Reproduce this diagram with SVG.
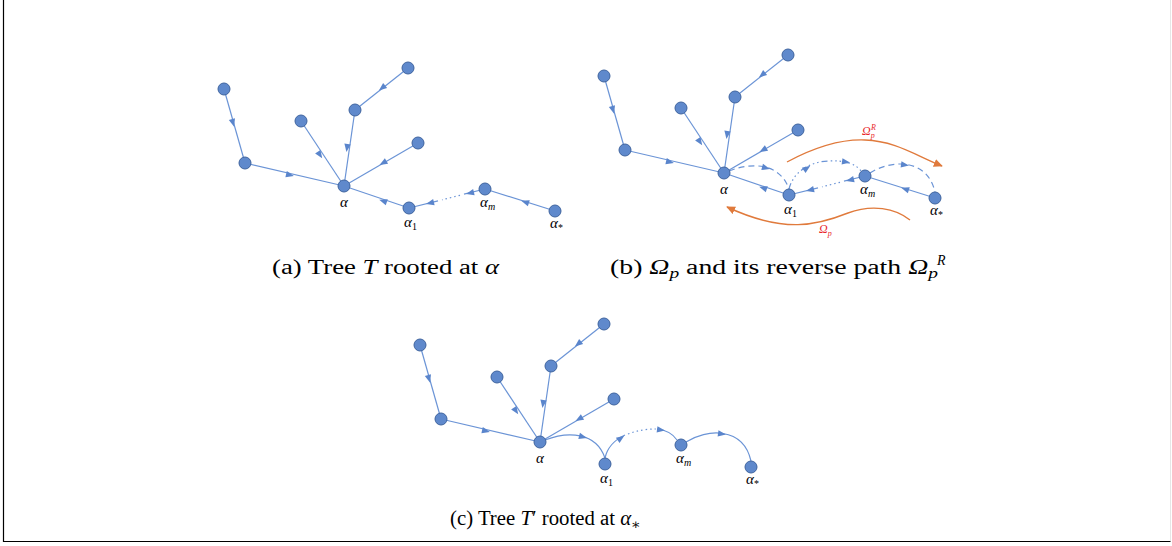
<svg xmlns="http://www.w3.org/2000/svg" xmlns:xlink="http://www.w3.org/1999/xlink" width="1172" height="546" viewBox="0 0 1172 546">
<style>
.e{fill:none;stroke:#6b94d6;stroke-width:1.2}
.dash{stroke-dasharray:6 4}
.dd{stroke-dasharray:6 3 1.5 3 1.5 3 1.5 3}
.dot{stroke-dasharray:1.5 3}
.n{fill:#5f89cc;stroke:#3f649f;stroke-width:1}
.lbl{font-family:"Liberation Serif","DejaVu Serif",serif;font-style:italic;font-size:15px;fill:#000}
.sub{font-size:10px}
.up{font-style:normal}
.cap{font-family:"Liberation Serif","DejaVu Serif",serif;font-size:20px;fill:#000}
.or{fill:none;stroke:#e07a3c;stroke-width:1.4}
.red{font-family:"Liberation Serif","DejaVu Serif",serif;font-style:italic;font-size:12px;fill:#e8262a}
</style>
<defs>
<path id="arr" d="M-4,-3.2 L4,0 L-4,3.2 z" fill="#5a85cc"/>
<marker id="oh" viewBox="0 0 10 10" refX="9" refY="5" markerWidth="9" markerHeight="9" markerUnits="userSpaceOnUse" orient="auto"><path d="M0,0.5 L10,5 L0,9.5 z" fill="#e07a3c"/></marker>
<g id="treeEdges">
<path class="e" d="M224,89 L245,163"/><use xlink:href="#arr" transform="translate(233,123) rotate(74)"/>
<path class="e" d="M245,163 L344,186"/><use xlink:href="#arr" transform="translate(290,175) rotate(13)"/>
<path class="e" d="M301,121 L344,186"/><use xlink:href="#arr" transform="translate(320,155) rotate(56.5)"/>
<path class="e" d="M355,110 L344,186"/><use xlink:href="#arr" transform="translate(347,148) rotate(98)"/>
<path class="e" d="M408,68 L355,110"/><use xlink:href="#arr" transform="translate(382,88) rotate(141.6)"/>
<path class="e" d="M418,143 L344,186"/><use xlink:href="#arr" transform="translate(383,163) rotate(150)"/>
</g>
<g id="pathEdges">
<path class="e" d="M409,208 L344,186"/><use xlink:href="#arr" transform="translate(383,201) rotate(198.7)"/>
<path class="e" d="M485,189 L464,194.2"/><use xlink:href="#arr" transform="translate(470,193) rotate(166)"/>
<path class="e dot" d="M460,195.3 L442,199.8"/>
<path class="e" d="M438,200.8 L409,208"/><use xlink:href="#arr" transform="translate(430,203) rotate(166)"/>
<path class="e" d="M555,211 L485,189"/><use xlink:href="#arr" transform="translate(525,202) rotate(197.4)"/>
</g>
<g id="nodeSet">
<circle class="n" cx="224" cy="89" r="6"/>
<circle class="n" cx="245" cy="163" r="6"/>
<circle class="n" cx="301" cy="121" r="6"/>
<circle class="n" cx="355" cy="110" r="6"/>
<circle class="n" cx="408" cy="68" r="6"/>
<circle class="n" cx="418" cy="143" r="6"/>
</g>
</defs>

<path d="M3.5,0 L3.5,541.5 L1170.5,541.5" fill="none" stroke="#000" stroke-width="1.2"/>
<path d="M1170.5,0 L1170.5,541" fill="none" stroke="#e6e6e6" stroke-width="1"/>

<!-- Panel (a) -->
<g id="panel-a">
<g id="a-connectors">
<use xlink:href="#treeEdges"/>
<use xlink:href="#pathEdges"/>
</g>
<g id="a-leaves"><use xlink:href="#nodeSet"/></g>
<g id="a-alpha"><circle class="n" cx="344" cy="186" r="6"/><text class="lbl" x="344" y="207" text-anchor="middle">α</text></g>
<g id="a-alpha1"><circle class="n" cx="409" cy="208" r="6"/><text class="lbl" x="404" y="227">α<tspan class="sub up" dy="3">1</tspan></text></g>
<g id="a-alpham"><circle class="n" cx="485" cy="189" r="6"/><text class="lbl" x="480" y="207">α<tspan class="sub" dy="3">m</tspan></text></g>
<g id="a-alphastar"><circle class="n" cx="555" cy="211" r="6"/><text class="lbl" x="550" y="228">α<tspan class="sub up" dy="3">*</tspan></text></g>
<text class="cap" x="272" y="274" textLength="227" lengthAdjust="spacingAndGlyphs">(a) Tree <tspan font-style="italic">T</tspan> rooted at <tspan font-style="italic">α</tspan></text>
</g>

<!-- Panel (b) -->
<g id="panel-b" transform="translate(380,-13)">
<g id="b-connectors">
<use xlink:href="#treeEdges"/>
<use xlink:href="#pathEdges"/>
<path class="e dash" d="M349,184 C372,175 400,176 409,202"/><use xlink:href="#arr" transform="translate(386,181) rotate(15)"/>
<path class="e dd" d="M409,202 C413,186 428,175 448,174 C465,173 476,177 481,184"/><use xlink:href="#arr" transform="translate(427,181) rotate(-35)"/><use xlink:href="#arr" transform="translate(466,175) rotate(8)"/>
<path class="e dash" d="M490,186 C510,173 547,170 555,205"/><use xlink:href="#arr" transform="translate(525,178) rotate(8)"/>
</g>
<g id="b-leaves"><use xlink:href="#nodeSet"/></g>
<g id="b-alpha"><circle class="n" cx="344" cy="186" r="6"/><text class="lbl" x="344" y="207" text-anchor="middle">α</text></g>
<g id="b-alpha1"><circle class="n" cx="409" cy="208" r="6"/><text class="lbl" x="404" y="227">α<tspan class="sub up" dy="3">1</tspan></text></g>
<g id="b-alpham"><circle class="n" cx="485" cy="189" r="6"/><text class="lbl" x="480" y="207">α<tspan class="sub" dy="3">m</tspan></text></g>
<g id="b-alphastar"><circle class="n" cx="555" cy="211" r="6"/><text class="lbl" x="550" y="228">α<tspan class="sub up" dy="3">*</tspan></text></g>
</g>
<g id="b-orange">
<path class="or" d="M787,162 C815,147 840,139 865,140 C895,141 915,155 942,166" marker-end="url(#oh)"/>
<text class="red" x="862" y="135">Ω<tspan font-size="8" dy="2.5">p</tspan></text>
<text class="red" x="871" y="130" style="font-size:8px">R</text>
<path class="or" d="M910,220 C895,208 872,204 848,213 C818,225 785,234 727,207" marker-end="url(#oh)"/>
<text class="red" x="819" y="233">Ω<tspan font-size="8" dy="2.5">p</tspan></text>
</g>
<text class="cap" x="610" y="274" textLength="328" lengthAdjust="spacingAndGlyphs">(b) <tspan font-style="italic">Ω</tspan><tspan font-style="italic" font-size="14" dy="4">p</tspan><tspan dy="-4"> and its reverse path </tspan><tspan font-style="italic">Ω</tspan><tspan font-style="italic" font-size="14" dy="4">p</tspan></text>
<text class="cap" x="937" y="265" style="font-size:14px;font-style:italic">R</text>

<!-- Panel (c) -->
<g id="panel-c" transform="translate(196,256)">
<g id="c-connectors">
<use xlink:href="#treeEdges"/>
<path class="e" d="M349,184 C372,175 400,176 409,202"/><use xlink:href="#arr" transform="translate(387,181) rotate(15)"/>
<path class="e" d="M409,202 C411,193 418,184 429,179"/>
<path class="e dot" d="M432,178 C442,174 452,173 460,173"/>
<path class="e" d="M461,173 C470,174 477,178 481,184"/>
<use xlink:href="#arr" transform="translate(425,182) rotate(-35)"/><use xlink:href="#arr" transform="translate(465,174) rotate(8)"/>
<path class="e" d="M490,186 C510,173 547,170 555,205"/><use xlink:href="#arr" transform="translate(526,178) rotate(8)"/>
</g>
<g id="c-leaves"><use xlink:href="#nodeSet"/></g>
<g id="c-alpha"><circle class="n" cx="344" cy="186" r="6"/><text class="lbl" x="344" y="207" text-anchor="middle">α</text></g>
<g id="c-alpha1"><circle class="n" cx="409" cy="208" r="6"/><text class="lbl" x="404" y="227">α<tspan class="sub up" dy="3">1</tspan></text></g>
<g id="c-alpham"><circle class="n" cx="485" cy="189" r="6"/><text class="lbl" x="480" y="207">α<tspan class="sub" dy="3">m</tspan></text></g>
<g id="c-alphastar"><circle class="n" cx="555" cy="211" r="6"/><text class="lbl" x="550" y="228">α<tspan class="sub up" dy="3">*</tspan></text></g>
</g>
<text class="cap" x="450" y="525" textLength="191" lengthAdjust="spacingAndGlyphs">(c) Tree <tspan font-style="italic">T</tspan>′ rooted at <tspan font-style="italic">α</tspan><tspan font-size="14" dy="4">∗</tspan></text>
</svg>
